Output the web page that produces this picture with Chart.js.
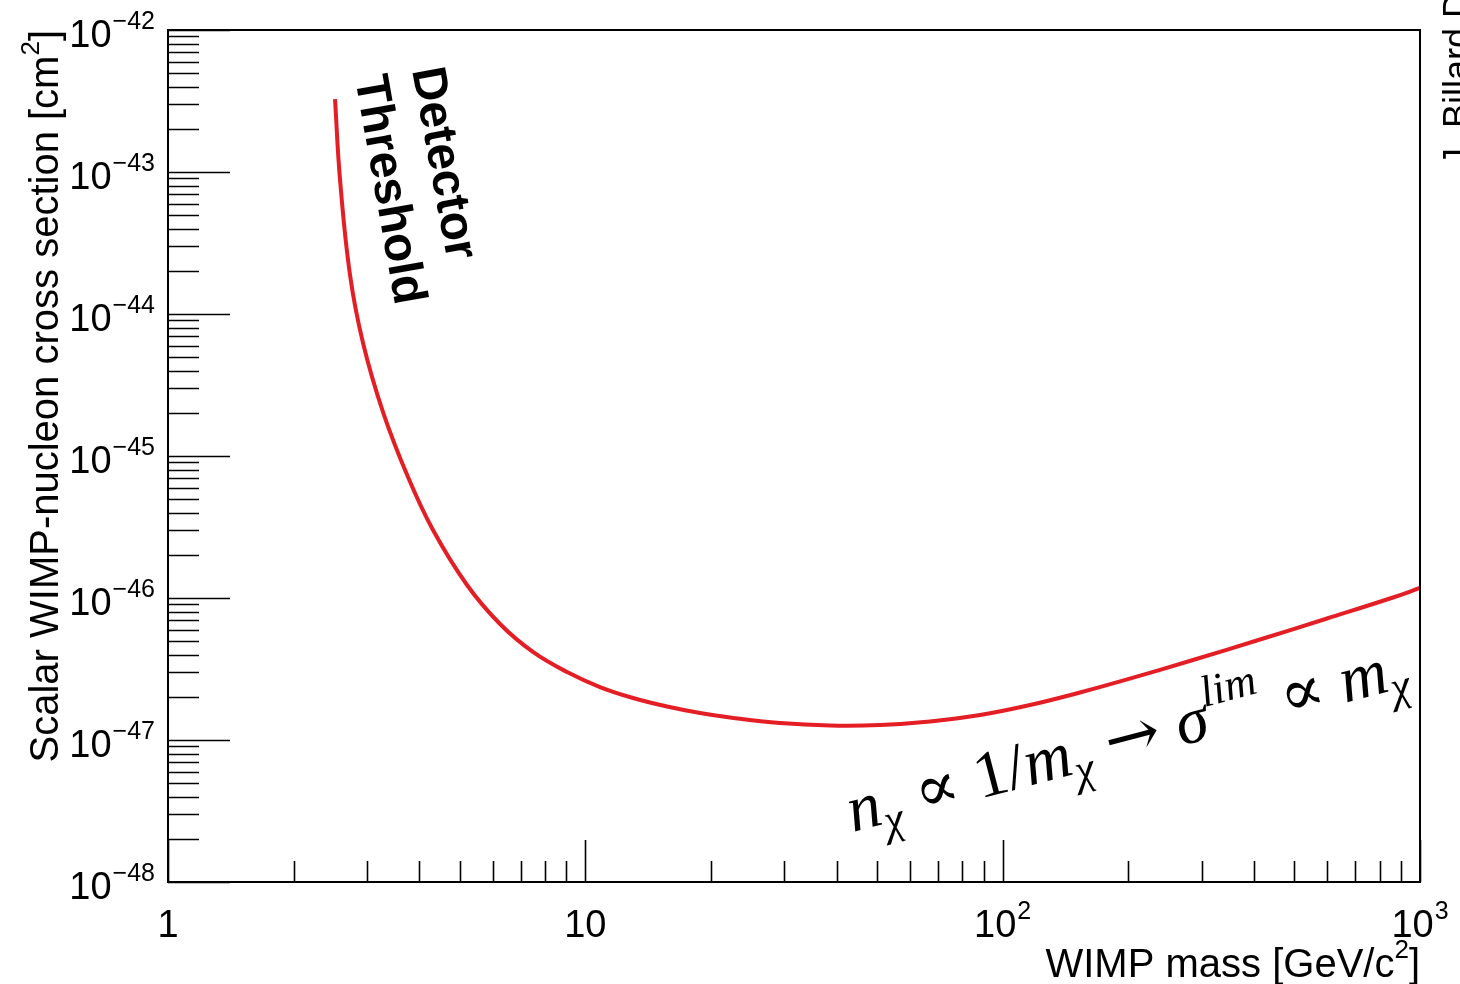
<!DOCTYPE html>
<html>
<head>
<meta charset="utf-8">
<script src="https://cdn.jsdelivr.net/npm/chart.js@4.4.1/dist/chart.umd.min.js"></script>
<style>
  html, body { margin: 0; padding: 0; background: #fff; }
  canvas { display: block; }
</style>
</head>
<body>
<canvas id="limitChart" width="1460" height="984"></canvas>
<script>
// WIMP mass (GeV/c^2) and the matching exclusion limit (cm^2)
const massGeV = [2.513, 2.584, 2.730, 2.933, 3.275, 3.759, 4.315, 5.206, 6.246, 7.490, 9.039, 10.84, 13.01, 15.70, 18.83, 22.22, 29.28, 38.58, 50.82, 66.97, 88.27, 116.3, 153.2, 198.7, 285.8, 413.7, 598.6, 861.6, 1000];
const crossSection = [3.266e-43, 8.78e-44, 1.882e-44, 6.25e-45, 2.04e-45, 7.11e-46, 3.01e-46, 1.234e-46, 6.56e-47, 4.17e-47, 3.01e-47, 2.36e-47, 1.976e-47, 1.721e-47, 1.549e-47, 1.440e-47, 1.317e-47, 1.265e-47, 1.275e-47, 1.350e-47, 1.500e-47, 1.764e-47, 2.16e-47, 2.67e-47, 3.66e-47, 5.10e-47, 7.17e-47, 1.008e-46, 1.176e-46];

// axis decades
const xDecades = [0, 1, 2, 3];
const yDecades = [-48, -47, -46, -45, -44, -43, -42];
const xLabels = ['1', '10', '10^2', '10^3'];

const FONT = '"Liberation Sans", Arial, Helvetica, sans-serif';

// draws "10^n" style text; align = 'right' or 'center'
function drawPowerLabel(ctx, text, x, y, align) {
  const parts = text.split('^');
  ctx.font = '38px ' + FONT;
  const wBase = ctx.measureText(parts[0]).width;
  let wExp = 0;
  if (parts[1]) {
    ctx.font = '25px ' + FONT;
    wExp = ctx.measureText(parts[1]).width + 1;
  }
  const total = wBase + wExp;
  let x0 = align === 'right' ? x - total : x - total / 2;
  ctx.textAlign = 'left';
  ctx.textBaseline = 'alphabetic';
  ctx.font = '38px ' + FONT;
  ctx.fillText(parts[0], x0, y);
  if (parts[1]) {
    ctx.font = '25px ' + FONT;
    ctx.fillText(parts[1], x0 + wBase + 1, y - 18);
  }
}

// text pieces laid out along one baseline
function drawRun(ctx, pieces) {
  let x = 0;
  pieces.forEach(p => {
    if (p.gap) { x += p.gap; return; }
    ctx.font = p.font;
    ctx.fillText(p.t, x, p.dy || 0);
    x += ctx.measureText(p.t).width;
  });
  return x;
}

function runWidth(ctx, pieces) {
  let x = 0;
  pieces.forEach(p => {
    if (p.gap) { x += p.gap; return; }
    ctx.font = p.font;
    x += ctx.measureText(p.t).width;
  });
  return x;
}

// title with a squared unit: main + superscript "2" + closing bracket
function titlePieces(main) {
  return [
    { t: main, font: '40px ' + FONT },
    { t: '2', font: '26px ' + FONT, dy: -19 },
    { t: ']', font: '40px ' + FONT }
  ];
}

const framePlugin = {
  id: 'rootFrame',
  afterDraw(chart) {
    const ctx = chart.ctx;
    const xs = chart.scales.x;
    const ys = chart.scales.y;
    const area = chart.chartArea;
    ctx.save();
    ctx.fillStyle = '#000';
    ctx.strokeStyle = '#000';

    // frame
    ctx.lineWidth = 2;
    ctx.strokeRect(area.left, area.top, area.right - area.left, area.bottom - area.top);

    // y ticks inside the left edge
    ctx.lineWidth = 1.6;
    ctx.beginPath();
    yDecades.forEach(e => {
      const py = Math.round(ys.getPixelForValue(Math.pow(10, e))) + 0.5;
      ctx.moveTo(area.left, py);
      ctx.lineTo(area.left + 62, py);
      if (e < -42) {
        for (let k = 2; k <= 9; k++) {
          const my = Math.round(ys.getPixelForValue(k * Math.pow(10, e))) + 0.5;
          ctx.moveTo(area.left, my);
          ctx.lineTo(area.left + 31, my);
        }
      }
    });
    // x ticks inside the bottom edge
    xDecades.forEach(e => {
      const px = Math.round(xs.getPixelForValue(Math.pow(10, e))) + 0.5;
      ctx.moveTo(px, area.bottom);
      ctx.lineTo(px, area.bottom - 42);
      if (e < 3) {
        for (let k = 2; k <= 9; k++) {
          const mx = Math.round(xs.getPixelForValue(k * Math.pow(10, e))) + 0.5;
          ctx.moveTo(mx, area.bottom);
          ctx.lineTo(mx, area.bottom - 21);
        }
      }
    });
    ctx.stroke();

    // tick labels
    yDecades.forEach(e => {
      const py = ys.getPixelForValue(Math.pow(10, e));
      drawPowerLabel(ctx, '10^\u2212' + Math.abs(e), 155, py + 17, 'right');
    });
    xDecades.forEach((e, i) => {
      const px = xs.getPixelForValue(Math.pow(10, e));
      drawPowerLabel(ctx, xLabels[i], px, 937, 'center');
    });

    ctx.textAlign = 'left';
    ctx.textBaseline = 'alphabetic';

    // x axis title, right-aligned to the frame
    const xTitle = titlePieces('WIMP mass [GeV/c');
    ctx.save();
    ctx.translate(area.right - runWidth(ctx, xTitle), 977);
    drawRun(ctx, xTitle);
    ctx.restore();

    // y axis title, reading upwards, ending at the top of the frame
    const yTitle = titlePieces('Scalar WIMP-nucleon cross section [cm');
    ctx.save();
    ctx.translate(58, area.top);
    ctx.rotate(-Math.PI / 2);
    ctx.translate(-runWidth(ctx, yTitle), 0);
    drawRun(ctx, yTitle);
    ctx.restore();

    // threshold annotation
    ctx.font = 'bold 48px ' + FONT;
    ctx.save();
    ctx.translate(412, 70);
    ctx.rotate(79.5 * Math.PI / 180);
    ctx.fillText('Detector', 0, 0);
    ctx.restore();
    ctx.save();
    ctx.translate(355, 78);
    ctx.rotate(80 * Math.PI / 180);
    ctx.fillText('Threshold', 0, 0);
    ctx.restore();

    // scaling relation along the rising branch
    const it = 'italic 54px "Liberation Serif", "DejaVu Serif", serif';
    const itS = 'italic 36px "Liberation Serif", "DejaVu Serif", serif';
    const up = '54px "DejaVu Serif", "Liberation Serif", serif';
    const pieces = [
      { t: 'n', font: it }, { t: '\u03c7', font: itS, dy: 10 }, { gap: 14 },
      { t: '\u221d', font: up }, { gap: 14 },
      { t: '1/', font: '54px "Liberation Serif", serif' },
      { t: 'm', font: it }, { t: '\u03c7', font: itS, dy: 10 }, { gap: 14 },
      { t: '\u2192', font: up }, { gap: 14 },
      { t: '\u03c3', font: it }, { t: 'lim', font: itS, dy: -26 }, { gap: 16 },
      { t: '\u221d', font: up }, { gap: 14 },
      { t: 'm', font: it }, { t: '\u03c7', font: itS, dy: 10 }
    ];
    const natural = runWidth(ctx, pieces);
    ctx.save();
    ctx.translate(853, 832);
    ctx.rotate(-14.7 * Math.PI / 180);
    const k = 576 / natural;
    ctx.scale(k, k);
    drawRun(ctx, pieces);
    ctx.restore();

    // author stamp at the right edge
    ctx.save();
    ctx.translate(1469, 166);
    ctx.rotate(-Math.PI / 2);
    ctx.font = '36px ' + FONT;
    ctx.fillText('J. Billard D', 0, 0);
    ctx.restore();

    ctx.restore();
  }
};

const ctx = document.getElementById('limitChart').getContext('2d');
new Chart(ctx, {
  type: 'line',
  data: {
    labels: massGeV,
    datasets: [{
      data: massGeV.map((m, i) => ({ x: m, y: crossSection[i] })),
      borderColor: '#e31e24',
      borderWidth: 4,
      pointRadius: 0,
      fill: false,
      tension: 0.4
    }]
  },
  options: {
    responsive: false,
    animation: false,
    devicePixelRatio: 1,
    layout: { padding: { left: 168, top: 30, right: 40, bottom: 102 } },
    plugins: { legend: { display: false }, tooltip: { enabled: false } },
    scales: {
      x: { type: 'logarithmic', min: 1, max: 1000, display: false },
      y: { type: 'logarithmic', min: 1e-48, max: 1e-42, display: false }
    }
  },
  plugins: [framePlugin]
});
</script>
</body>
</html>
